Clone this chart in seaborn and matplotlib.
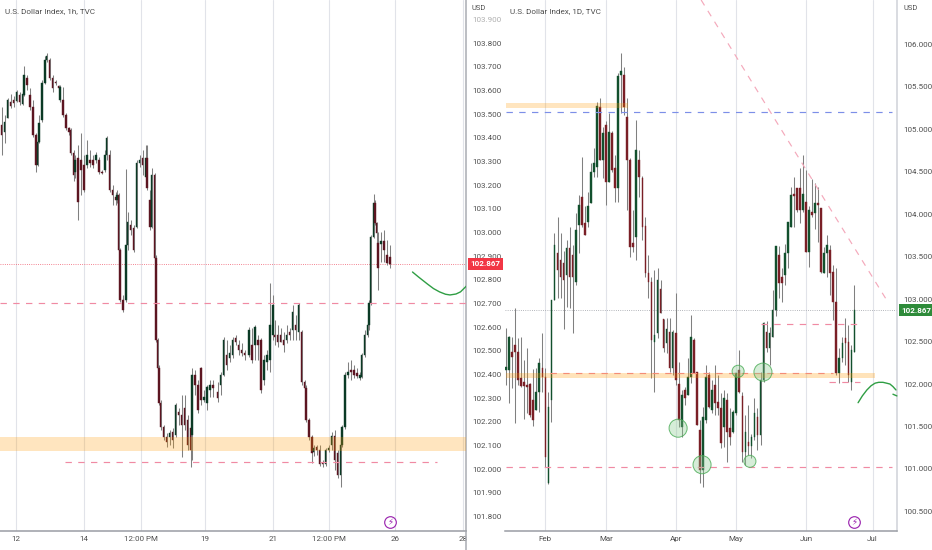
import numpy as np
import pandas as pd
import matplotlib
matplotlib.use('Agg')
import matplotlib.pyplot as plt
from matplotlib.lines import Line2D
import seaborn as sns

# ── Left chart data (1h) ───────────────────────────────
left_hour = [1, 3, 5, 7, 9, 11, 13, 15, 16, 18, 20, 22, 24, 25, 26, 28, 30, 31, 33, 35,
             37, 39, 40, 42, 44, 46, 47, 49, 50, 52, 54, 56, 58, 60, 62, 64, 66, 68, 70, 71,
             73, 75, 77, 78, 79, 80, 82, 84, 85, 87, 89, 91, 93, 95, 97, 98, 100, 101, 103, 104,
             105, 106, 107, 109, 111, 113, 115, 117, 119, 121, 123, 125, 127, 128, 130, 132, 134, 136, 138, 140,
             142, 145, 147, 149, 151, 153, 155, 157, 159, 161, 163, 166, 168, 170, 172, 174, 176, 178, 180, 182,
             183, 185, 187, 189, 191, 193, 195, 197, 199, 201, 203, 204, 206, 208, 209, 211, 213, 215, 217, 219,
             221, 223, 225, 227, 228, 230, 232, 234, 236, 238, 240, 241, 243, 245, 246, 247, 249, 250, 251, 252,
             254, 256, 258, 260]
left_open = [103.455, 103.425, 103.484, 103.552, 103.560, 103.556, 103.581, 103.543, 103.581, 103.653,
             103.581, 103.531, 103.412, 103.285, 103.383, 103.476, 103.632, 103.729, 103.729, 103.653,
             103.636, 103.619, 103.560, 103.560, 103.497, 103.442, 103.433, 103.336, 103.256, 103.315,
             103.307, 103.285, 103.285, 103.307, 103.307, 103.307, 103.307, 103.256, 103.264, 103.328,
             103.328, 103.180, 103.150, 103.137, 103.159, 102.926, 102.715, 102.715, 102.947, 103.032,
             103.019, 103.023, 103.294, 103.315, 103.235, 103.315, 103.137, 103.023, 103.243, 102.892,
             102.545, 102.427, 102.279, 102.178, 102.135, 102.135, 102.156, 102.144, 102.241, 102.228,
             102.258, 102.207, 102.173, 102.144, 102.397, 102.355, 102.427, 102.292, 102.279, 102.334,
             102.355, 102.326, 102.355, 102.397, 102.482, 102.469, 102.482, 102.554, 102.524, 102.503,
             102.490, 102.482, 102.524, 102.524, 102.545, 102.545, 102.376, 102.452, 102.461, 102.567,
             102.567, 102.567, 102.567, 102.545, 102.545, 102.579, 102.588, 102.609, 102.579, 102.579,
             102.368, 102.342, 102.207, 102.135, 102.072, 102.093, 102.080, 102.025, 102.021, 102.080,
             102.102, 102.140, 102.068, 101.975, 102.102, 102.178, 102.397, 102.419, 102.419, 102.406,
             102.385, 102.389, 102.482, 102.567, 102.609, 102.702, 102.981, 103.125, 103.040, 102.956,
             102.951, 102.964, 102.905, 102.896]
left_close = [103.412, 103.467, 103.560, 103.535, 103.548, 103.594, 103.552, 103.586, 103.666, 103.624,
              103.531, 103.412, 103.285, 103.383, 103.463, 103.632, 103.729, 103.746, 103.653, 103.611,
              103.632, 103.611, 103.615, 103.497, 103.442, 103.425, 103.336, 103.243, 103.307, 103.129,
              103.264, 103.180, 103.328, 103.294, 103.285, 103.328, 103.256, 103.252, 103.328, 103.400,
              103.180, 103.159, 103.137, 103.159, 102.926, 102.715, 102.672, 102.947, 103.044, 103.011,
              102.926, 103.294, 103.307, 103.285, 103.315, 103.188, 103.023, 103.243, 102.892, 102.545,
              102.427, 102.279, 102.178, 102.135, 102.114, 102.152, 102.123, 102.271, 102.228, 102.186,
              102.186, 102.102, 102.080, 102.397, 102.355, 102.249, 102.292, 102.304, 102.347, 102.355,
              102.342, 102.300, 102.397, 102.545, 102.440, 102.490, 102.545, 102.537, 102.503, 102.490,
              102.482, 102.588, 102.461, 102.600, 102.524, 102.334, 102.461, 102.482, 102.609, 102.693,
              102.558, 102.537, 102.537, 102.524, 102.567, 102.567, 102.664, 102.588, 102.693, 102.368,
              102.342, 102.207, 102.135, 102.068, 102.089, 102.080, 102.021, 102.021, 102.080, 102.089,
              102.140, 102.038, 101.975, 102.102, 102.178, 102.397, 102.410, 102.410, 102.397, 102.393,
              102.397, 102.482, 102.567, 102.609, 102.702, 102.981, 103.125, 103.040, 102.998, 102.850,
              102.964, 102.926, 102.871, 102.867]
left_high = [103.531, 103.497, 103.569, 103.586, 103.577, 103.602, 103.594, 103.586, 103.704, 103.666,
             103.611, 103.560, 103.421, 103.391, 103.497, 103.645, 103.746, 103.759, 103.738, 103.666,
             103.645, 103.624, 103.624, 103.615, 103.505, 103.446, 103.442, 103.349, 103.328, 103.370,
             103.421, 103.328, 103.391, 103.349, 103.328, 103.340, 103.319, 103.264, 103.349, 103.408,
             103.349, 103.201, 103.171, 103.180, 103.167, 102.934, 102.736, 103.268, 103.087, 103.053,
             103.032, 103.307, 103.328, 103.349, 103.370, 103.370, 103.180, 103.273, 103.252, 102.905,
             102.554, 102.440, 102.292, 102.186, 102.152, 102.165, 102.173, 102.279, 102.258, 102.313,
             102.313, 102.228, 102.186, 102.427, 102.419, 102.376, 102.431, 102.334, 102.355, 102.376,
             102.376, 102.368, 102.410, 102.558, 102.545, 102.524, 102.558, 102.567, 102.545, 102.533,
             102.503, 102.600, 102.596, 102.609, 102.567, 102.554, 102.482, 102.503, 102.786, 102.736,
             102.630, 102.609, 102.596, 102.579, 102.609, 102.596, 102.693, 102.651, 102.702, 102.588,
             102.376, 102.355, 102.216, 102.144, 102.102, 102.102, 102.102, 102.038, 102.089, 102.102,
             102.156, 102.165, 102.080, 102.156, 102.186, 102.410, 102.453, 102.461, 102.440, 102.427,
             102.410, 102.490, 102.588, 102.630, 102.715, 102.989, 103.163, 103.137, 103.044, 103.002,
             103.002, 103.011, 102.968, 102.947]
left_low = [103.328, 103.378, 103.484, 103.526, 103.531, 103.552, 103.539, 103.539, 103.577, 103.602,
            103.518, 103.404, 103.256, 103.281, 103.378, 103.467, 103.628, 103.721, 103.645, 103.594,
            103.624, 103.602, 103.552, 103.488, 103.433, 103.412, 103.328, 103.218, 103.230, 103.053,
            103.159, 103.171, 103.273, 103.277, 103.273, 103.294, 103.247, 103.247, 103.256, 103.307,
            103.171, 103.116, 103.116, 103.125, 102.918, 102.706, 102.664, 102.706, 102.926, 102.989,
            102.918, 103.019, 103.277, 103.243, 103.222, 103.180, 103.011, 103.019, 102.884, 102.537,
            102.419, 102.271, 102.165, 102.123, 102.093, 102.102, 102.089, 102.135, 102.186, 102.051,
            102.165, 102.080, 102.008, 102.038, 102.313, 102.237, 102.271, 102.283, 102.249, 102.305,
            102.305, 102.283, 102.313, 102.393, 102.419, 102.452, 102.469, 102.524, 102.482, 102.478,
            102.461, 102.474, 102.448, 102.461, 102.461, 102.321, 102.355, 102.419, 102.410, 102.545,
            102.524, 102.516, 102.537, 102.495, 102.533, 102.545, 102.545, 102.545, 102.545, 102.355,
            102.271, 102.199, 102.123, 102.025, 102.055, 102.059, 102.013, 102.008, 102.013, 102.072,
            102.080, 101.996, 101.962, 101.924, 102.093, 102.169, 102.385, 102.376, 102.385, 102.385,
            102.376, 102.385, 102.474, 102.558, 102.588, 102.694, 102.977, 103.032, 102.947, 102.757,
            102.875, 102.875, 102.863, 102.850]

left_yticks = [101.8, 101.9, 102.0, 102.1, 102.2, 102.3, 102.4, 102.5, 102.6, 102.7,
               102.8, 102.9, 103.0, 103.1, 103.2, 103.3, 103.4, 103.5, 103.6, 103.7, 103.8, 103.9]
left_xticks = [10.5, 56, 94, 136.5, 182, 219, 263.5, 308.5]
left_xlabels = ['12', '14', '12:00 PM', '19', '21', '12:00 PM', '26', '28']
left_curve_hour = [275, 279, 285, 289, 293, 297, 300, 304, 307, 311]
left_curve_price = [102.833, 102.812, 102.782, 102.763, 102.749, 102.739, 102.736, 102.740, 102.749, 102.774]

# ── Right chart data (1D) ──────────────────────────────
right_open = [102.16, 102.16, 102.38, 102.46, 102.38, 102.07, 102.02, 101.99, 102.00, 101.81,
              101.69, 101.91, 102.19, 102.08, 100.83, 101.81, 102.99, 103.54, 103.46, 103.42,
              103.28, 103.60, 103.52, 103.20, 103.87, 104.20, 103.90, 103.91, 104.13, 104.50,
              104.56, 105.26, 104.64, 105.05, 104.38, 104.96, 104.54, 104.31, 105.64, 105.64,
              105.14, 104.64, 103.66, 103.73, 104.64, 104.43, 103.86, 103.31, 103.20, 102.49,
              102.60, 103.12, 102.77, 102.48, 102.61, 102.19, 102.60, 102.00, 101.49, 101.93,
              101.87, 102.08, 102.52, 102.14, 101.46, 100.99, 101.58, 102.11, 101.69, 101.99,
              101.79, 101.72, 101.49, 101.81, 101.48, 101.43, 101.66, 102.16, 101.86, 101.20,
              101.32, 101.27, 101.38, 101.61, 101.40, 102.05, 102.61, 102.42, 102.55, 102.87,
              103.52, 103.26, 103.28, 103.54, 103.85, 104.24, 104.31, 104.31, 104.05, 104.14,
              103.55, 104.03, 104.01, 104.13, 104.07, 103.31, 103.54, 103.58, 103.32, 102.97,
              102.13, 102.31, 102.54, 102.49, 102.02, 102.38]
right_close = [102.20, 102.55, 102.32, 102.38, 102.05, 101.98, 101.98, 101.96, 101.63, 101.58,
               101.91, 102.25, 102.08, 101.14, 101.73, 102.99, 103.64, 103.34, 103.26, 103.22,
               103.60, 103.26, 103.26, 103.81, 104.11, 103.87, 103.75, 104.10, 104.50, 104.60,
               105.27, 104.64, 104.96, 104.38, 104.97, 104.52, 104.31, 105.63, 105.69, 105.26,
               104.64, 103.61, 103.61, 104.76, 104.44, 103.85, 103.31, 103.20, 102.52, 102.58,
               103.22, 102.84, 102.42, 102.65, 102.19, 102.61, 102.05, 101.58, 101.87, 101.84,
               102.08, 102.55, 102.13, 101.52, 100.99, 101.61, 102.08, 101.73, 101.93, 101.78,
               101.72, 101.30, 101.84, 101.43, 101.38, 101.67, 102.13, 101.91, 101.20, 101.43,
               101.27, 101.38, 101.66, 101.40, 102.05, 102.72, 102.42, 102.60, 102.87, 103.63,
               103.19, 103.19, 103.54, 103.91, 104.23, 104.21, 104.05, 104.05, 104.24, 103.55,
               104.05, 103.99, 104.13, 104.11, 103.32, 103.54, 103.64, 103.31, 102.97, 102.13,
               102.31, 102.48, 102.48, 102.11, 102.40, 102.867]
right_high = [102.66, 102.56, 102.55, 102.89, 102.54, 102.55, 102.28, 102.42, 102.01, 102.18,
              102.19, 102.31, 102.60, 102.19, 101.91, 102.99, 103.78, 103.97, 103.78, 103.56,
              103.70, 103.85, 103.64, 104.01, 104.23, 104.67, 104.09, 104.26, 104.60, 104.78,
              105.32, 105.37, 105.03, 105.09, 105.19, 104.98, 104.70, 105.66, 105.90, 105.73,
              105.37, 104.66, 104.05, 105.11, 104.76, 104.45, 103.96, 103.52, 103.26, 103.34,
              103.37, 103.22, 102.77, 102.78, 102.78, 102.64, 103.07, 102.26, 101.93, 101.96,
              102.31, 102.81, 102.54, 102.14, 101.58, 101.73, 102.22, 102.14, 102.05, 102.22,
              102.11, 101.89, 101.93, 101.89, 101.72, 101.69, 102.13, 102.40, 101.91, 101.63,
              101.75, 101.41, 101.84, 101.72, 102.14, 102.73, 102.74, 102.67, 103.11, 103.63,
              103.63, 103.37, 103.65, 103.91, 104.32, 104.44, 104.31, 104.54, 104.70, 104.52,
              104.09, 104.41, 104.37, 104.32, 104.07, 103.61, 103.75, 103.64, 103.40, 103.37,
              102.42, 102.55, 102.78, 102.69, 102.46, 103.17]
right_low = [101.99, 101.78, 101.95, 101.54, 101.99, 101.96, 101.59, 101.66, 101.61, 101.51,
             101.69, 101.67, 101.91, 101.02, 100.82, 101.55, 102.99, 103.01, 103.01, 102.65,
             102.91, 102.90, 102.60, 103.17, 103.54, 103.85, 103.75, 103.85, 104.13, 104.44,
             104.44, 104.64, 104.43, 104.11, 104.38, 104.50, 104.14, 104.14, 105.19, 105.17,
             104.05, 103.50, 103.55, 103.46, 104.20, 103.70, 103.26, 103.01, 102.07, 101.91,
             102.54, 102.84, 102.38, 102.37, 102.14, 102.11, 101.99, 101.49, 101.38, 101.75,
             101.87, 102.01, 102.13, 101.52, 100.83, 100.79, 101.54, 101.72, 101.66, 101.63,
             101.63, 101.25, 101.26, 101.08, 101.28, 101.42, 101.63, 101.89, 101.08, 101.05,
             101.16, 101.13, 101.34, 101.22, 101.28, 102.02, 102.38, 102.22, 102.55, 102.80,
             103.01, 102.97, 103.17, 103.37, 103.85, 103.85, 104.03, 103.90, 104.03, 103.55,
             103.38, 103.97, 103.83, 103.67, 103.31, 103.31, 103.26, 103.05, 102.75, 102.11,
             102.01, 102.26, 102.22, 102.02, 101.93, 102.38]

right_yticks = [100.5, 101.0, 101.5, 102.0, 102.5, 103.0, 103.5, 104.0, 104.5, 105.0, 105.5, 106.0]
right_xticks = [13, 33, 56, 76, 99, 121]
right_xlabels = ['Feb', 'Mar', 'Apr', 'May', 'Jun', 'Jul']
right_curve_bar = [116.2, 117.6, 119.1, 120.5, 121.8, 123.0, 124.4, 125.6, 126.7, 127.7, 128.7]
right_curve_price = [101.78, 101.86, 101.93, 101.98, 102.01, 102.02, 102.02, 102.01, 102.00, 101.97, 101.93]
tail_bar = [127.7, 129.0]
tail_price = [101.88, 101.86]
trend_bar = [64.4, 125.6]
trend_price = [106.52, 102.99]
circle_bar = [56.8, 64.7, 76.6, 80.5, 84.8]
circle_price = [101.48, 101.05, 102.15, 101.09, 102.14]
circle_size = [169, 169, 75, 75, 169]

last_price = 102.867
PINK = '#f08aa3'
GRID = '#e1e3e9'
TEXT = '#4f4f4f'
DASH = (0, (5.4, 5.4))


def draw_candles(ax, x, opens, closes, highs, lows, width, up, down):
    x, opens, closes = np.array(x, dtype=float), np.array(opens), np.array(closes)
    colors = [up if c >= o else down for o, c in zip(opens, closes)]
    ax.vlines(x, lows, highs, color='#808080', lw=0.75, zorder=2)
    ax.bar(x, np.abs(closes - opens), bottom=np.minimum(opens, closes), width=width,
           color=colors, edgecolor=colors, lw=0.3, zorder=3)


def style_axes(ax, yticks, xticks, xlabels, title):
    ax.yaxis.tick_right()
    ax.set_yticks(yticks)
    ax.set_yticklabels([f'{v:.3f}' for v in yticks])
    ax.set_xticks(xticks)
    ax.set_xticklabels(xlabels)
    ax.tick_params(axis='y', length=0, pad=4.2, labelsize=5.8, labelcolor=TEXT)
    ax.tick_params(axis='x', length=0, pad=3.5, labelsize=5.8, labelcolor=TEXT)
    ax.grid(True, axis='x', color=GRID, lw=0.8, zorder=0)
    ax.grid(False, axis='y')
    ax.set_axisbelow(True)
    sns.despine(ax=ax, left=True, top=True, right=False)
    ax.spines['right'].set_color('#a9acb3')
    ax.spines['right'].set_linewidth(1.1)
    ax.spines['bottom'].set_color('#9a9da4')
    ax.spines['bottom'].set_linewidth(1.1)
    ax.text(5 / ax.bbox.width, 1 - 11 / ax.bbox.height, title, transform=ax.transAxes,
            fontsize=5.9, color=TEXT, va='center', ha='left')
    ax.text(1 + 6 / ax.bbox.width, 1 - 8 / ax.bbox.height, 'USD', transform=ax.transAxes,
            fontsize=5.4, color=TEXT, va='center', ha='left', clip_on=False)


def price_tag(ax, price, color):
    ax.annotate(f'{price:.3f}', xy=(1, price), xycoords=('axes fraction', 'data'),
                xytext=(3.0, 0), textcoords='offset points', fontsize=5.8, color='white',
                fontweight='bold', va='center', ha='left', annotation_clip=False, zorder=10,
                bbox=dict(boxstyle='square,pad=0.32', fc=color, ec='none'))


def bolt(ax, x, y):
    ax.scatter([x], [y], s=70, facecolor='white', edgecolor='#9c27b0', lw=0.85, zorder=6)
    ax.text(x, y, '\u26a1', fontsize=6.2, color='#9c27b0', family='DejaVu Sans',
            ha='center', va='center', zorder=7)


sns.set_theme(style='white')
plt.rcParams['font.family'] = ['Roboto', 'DejaVu Sans']

fig = plt.figure(figsize=(9.32, 5.5), dpi=100, facecolor='white')
ax1 = fig.add_axes([0, 19 / 550, 466 / 932, 531 / 550])
ax2 = fig.add_axes([505 / 932, 19 / 550, 392 / 932, 531 / 550])

# ── Left chart ─────────────────────────────────────────
ax1.set_xlim(0, 466 / 1.5)
ax1.set_ylim(101.738, 103.983)
draw_candles(ax1, left_hour, left_open, left_close, left_high, left_low, 0.95, '#0b3a25', '#5c1521')
ax1.axhline(last_price, color='#ef5a6c', ls=':', lw=0.6, zorder=1)
ax1.axhline(102.70, color=PINK, ls=DASH, lw=0.85, zorder=4)
ax1.hlines(102.03, 43, 291, color=PINK, linestyles=DASH, lw=0.85, zorder=4)
ax1.axhspan(102.076, 102.135, color='#ff9800', alpha=0.25, lw=0, zorder=5)
curve1 = pd.DataFrame({'x': left_curve_hour, 'y': left_curve_price})
sns.lineplot(data=curve1, x='x', y='y', ax=ax1, color='#2f9e44', lw=1.0, estimator=None, sort=False, zorder=6)
bolt(ax1, 260, 101.776)
ax1.set_xlabel('')
ax1.set_ylabel('')
style_axes(ax1, left_yticks, left_xticks, left_xlabels, 'U.S. Dollar Index, 1h, TVC')
ax1.get_yticklabels()[-1].set_alpha(0.45)
price_tag(ax1, last_price, '#f23645')

# ── Right chart ────────────────────────────────────────
ax2.set_xlim(-0.33, 129.04)
ax2.set_ylim(100.27, 106.52)
right_bar = list(range(len(right_open)))
draw_candles(ax2, right_bar, right_open, right_close, right_high, right_low, 0.55, '#12502d', '#7a1f26')
ax2.axhline(last_price, color='#9a9da4', ls=':', lw=0.6, zorder=1)
ax2.hlines(105.198, 0, 127.4, color='#7c8fe8', linestyles=DASH, lw=0.85, zorder=4)
ax2.hlines(102.135, 14.5, 108, color=PINK, linestyles=DASH, lw=0.85, zorder=4)
ax2.hlines(101.02, 0, 127.4, color=PINK, linestyles=DASH, lw=0.85, zorder=4)
ax2.hlines(102.71, 84, 116, color=PINK, linestyles=DASH, lw=0.85, zorder=4)
ax2.hlines(102.02, 106.6, 116.8, color=PINK, linestyles=DASH, lw=0.85, zorder=4)
ax2.fill_between([0, 40.3], 105.245, 105.31, color='#ff9800', alpha=0.25, lw=0, zorder=5)
ax2.fill_between([0, 121.8], 102.07, 102.13, color='#ff9800', alpha=0.27, lw=0, zorder=5)
ax2.plot(trend_bar, trend_price, color='#f4a9bb', ls=DASH, lw=0.85, zorder=4)
ax2.scatter(circle_bar, circle_price, s=circle_size, facecolor=(0.55, 0.8, 0.57, 0.35),
            edgecolor=(0.3, 0.68, 0.35, 0.85), lw=0.7, zorder=6)
curve2 = pd.DataFrame({'x': right_curve_bar, 'y': right_curve_price})
sns.lineplot(data=curve2, x='x', y='y', ax=ax2, color='#2f9e44', lw=1.0, estimator=None, sort=False, zorder=6)
ax2.plot(tail_bar, tail_price, color='#2f9e44', lw=1.0, zorder=6, clip_on=False)
bolt(ax2, 114.9, 100.374)
ax2.set_xlabel('')
ax2.set_ylabel('')
style_axes(ax2, right_yticks, right_xticks, right_xlabels, 'U.S. Dollar Index, 1D, TVC')
ax2.spines['right'].set_color('#cfd2d8')
price_tag(ax2, last_price, '#2e8b3a')

fig.add_artist(Line2D([466 / 932, 466 / 932], [0, 19 / 550], color='#a9acb3', lw=1.1))

plt.savefig('out.png', dpi=100)
